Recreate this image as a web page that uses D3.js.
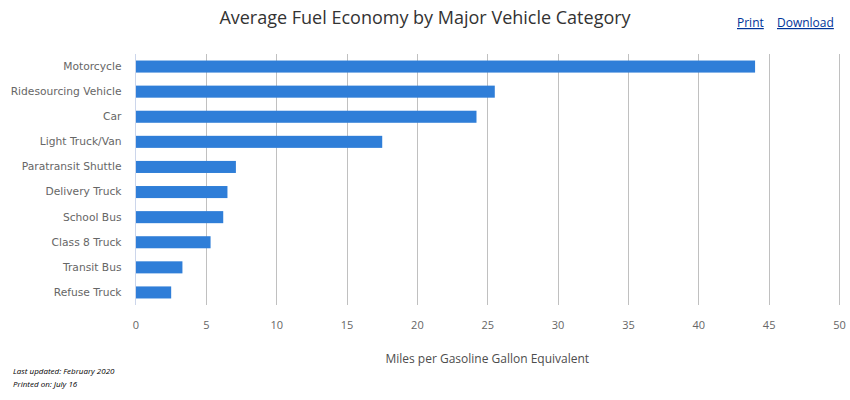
<!DOCTYPE html>
<html>
<head>
<meta charset="utf-8">
<script src="https://cdn.jsdelivr.net/npm/d3@7"></script>
<style>
  body { margin: 0; background: #fff; }
  svg { font-family: "Open Sans", "DejaVu Sans", sans-serif; }
</style>
</head>
<body>
<svg id="chart" width="850" height="400"></svg>
<script>
const categories = [
  "Motorcycle", "Ridesourcing Vehicle", "Car", "Light Truck/Van",
  "Paratransit Shuttle", "Delivery Truck", "School Bus", "Class 8 Truck",
  "Transit Bus", "Refuse Truck"
];
const mpgge = [44.0, 25.5, 24.2, 17.5, 7.1, 6.5, 6.2, 5.3, 3.3, 2.5];
const xTicks = [0, 5, 10, 15, 20, 25, 30, 35, 40, 45, 50];

const svg = d3.select("#chart");
const margin = { top: 54, right: 11, bottom: 95, left: 135.5 };
const width = 850, height = 400;

const x = d3.scaleLinear()
  .domain([0, 50])
  .range([margin.left, width - margin.right]);

const y = d3.scaleBand()
  .domain(categories)
  .range([margin.top, height - margin.bottom])
  .paddingInner(0.52)
  .paddingOuter(0.26);

const data = categories.map((c, i) => ({ name: c, value: mpgge[i] }));

// grid lines
svg.append("g")
  .selectAll("line")
  .data(xTicks.slice(1))
  .join("line")
  .attr("x1", d => Math.round(x(d)) + 0.5)
  .attr("x2", d => Math.round(x(d)) + 0.5)
  .attr("y1", margin.top)
  .attr("y2", height - margin.bottom)
  .attr("stroke", "#c0c0c0")
  .attr("stroke-width", 1);

// y axis line
svg.append("line")
  .attr("x1", margin.left).attr("x2", margin.left)
  .attr("y1", margin.top).attr("y2", height - margin.bottom)
  .attr("stroke", "#ccd6eb");

// bars
svg.append("g")
  .selectAll("rect")
  .data(data)
  .join("rect")
  .attr("x", x(0) + 0.5)
  .attr("y", d => y(d.name))
  .attr("width", d => x(d.value) - x(0))
  .attr("height", y.bandwidth())
  .attr("fill", "#2f7ed8");

// category labels
const yAxis = svg.append("g")
  .attr("transform", `translate(${margin.left},0)`)
  .call(d3.axisLeft(y).tickSize(0).tickPadding(14));
yAxis.select(".domain").remove();
yAxis.selectAll("text")
  .attr("fill", "#666")
  .attr("font-family", "DejaVu Sans")
  .style("font-family", "'DejaVu Sans', sans-serif")
  .style("font-size", "10.7px");

// x tick labels
const xAxis = svg.append("g")
  .attr("transform", `translate(0,${height - margin.bottom})`)
  .call(d3.axisBottom(x).tickValues(xTicks).tickSize(0).tickPadding(16));
xAxis.select(".domain").remove();
xAxis.selectAll("text")
  .attr("fill", "#666")
  .style("font-family", "'Open Sans', sans-serif")
  .style("font-size", "11px");

// axis title
svg.append("text")
  .attr("x", (margin.left + width - margin.right) / 2)
  .attr("y", 363)
  .attr("text-anchor", "middle")
  .attr("fill", "#4d4d4d")
  .style("font-size", "12px")
  .text("Miles per Gasoline Gallon Equivalent");

// title
svg.append("text")
  .attr("x", 425)
  .attr("y", 24)
  .attr("text-anchor", "middle")
  .attr("fill", "#333")
  .style("font-size", "18px")
  .text("Average Fuel Economy by Major Vehicle Category");

// links
[["Print", 737], ["Download", 777]].forEach(([t, xp]) => {
  svg.append("text")
    .attr("x", xp)
    .attr("y", 27)
    .attr("fill", "#003399")
    .style("font-size", "12px")
    .style("text-decoration", "underline")
    .text(t);
});

// footnotes
[["Last updated: February 2020", 374], ["Printed on: July 16", 387]].forEach(([t, yp]) => {
  svg.append("text")
    .attr("x", 13)
    .attr("y", yp)
    .attr("fill", "#000")
    .style("font-size", "8px")
    .style("font-style", "italic")
    .text(t);
});
</script>
</body>
</html>
